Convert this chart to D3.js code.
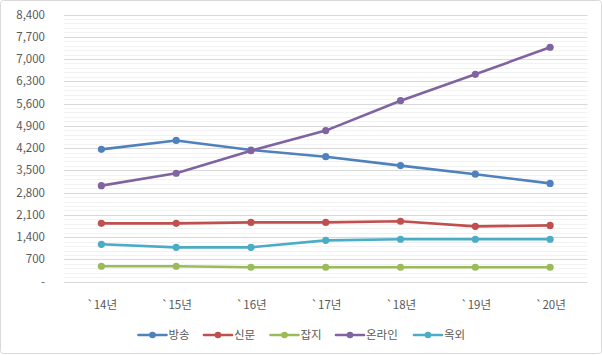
<!DOCTYPE html>
<html><head><meta charset="utf-8">
<script src="https://cdn.jsdelivr.net/npm/d3@7"></script>
<style>body{margin:0;background:#fff}svg{display:block}text{font-family:"Noto Sans CJK KR","Noto Sans",sans-serif}</style>
</head><body>
<svg id="c" width="602" height="355"></svg>
<script>
const categories = ["`14년","`15년","`16년","`17년","`18년","`19년","`20년"];
const broadcast = [4160, 4440, 4140, 3930, 3650, 3380, 3090];
const newspaper = [1835, 1835, 1865, 1865, 1900, 1740, 1770];
const magazine  = [485, 485, 455, 455, 455, 455, 455];
const online    = [3020, 3410, 4120, 4750, 5690, 6520, 7370];
const outdoor   = [1175, 1080, 1080, 1300, 1335, 1335, 1335];
const seriesNames = ["방송","신문","잡지","온라인","옥외"];
const seriesColors = ["#4F81BD","#C0504D","#9BBB59","#8064A2","#4BACC6"];
const yTicks = [0,700,1400,2100,2800,3500,4200,4900,5600,6300,7000,7700,8400];

const series = [broadcast, newspaper, magazine, online, outdoor].map((v,i)=>({name:seriesNames[i], color:seriesColors[i], values:v}));

const svg = d3.select("#c");
const L=64, R=587.5, T=14.5, B=281.7;
const x = d3.scalePoint().domain(categories).range([L,R]).padding(0.5);
const y = d3.scaleLinear().domain([0,8400]).range([B,T]);

svg.append("rect").attr("x",0.5).attr("y",0.5).attr("width",601).attr("height",353).attr("rx",3)
  .attr("fill","#fff").attr("stroke","#D9D9D9");

// minor gridlines
const minor = d3.range(0,8400,140).filter(v=>v%700!==0);
svg.append("g").selectAll("line").data(minor).join("line")
  .attr("x1",L).attr("x2",R).attr("y1",d=>Math.round(y(d))+0.5).attr("y2",d=>Math.round(y(d))+0.5)
  .attr("stroke","#F2F2F2").attr("stroke-width",1);
// major gridlines via axis
const yAxis = d3.axisLeft(y).tickValues(yTicks).tickSize(-(R-L)).tickPadding(19)
  .tickFormat(d=> d===0 ? "-" : d3.format(",")(d));
const gy = svg.append("g").attr("transform",`translate(${L},0)`).call(yAxis);
gy.select(".domain").remove();
gy.selectAll(".tick line").attr("stroke","#D9D9D9");
gy.selectAll(".tick").attr("transform",d=>`translate(0,${Math.round(y(d))+0.5})`);
gy.selectAll(".tick text").attr("fill","#595959").style("font-size","11.5px");

const xAxis = d3.axisBottom(x).tickSize(0).tickPadding(0);
const gx = svg.append("g").attr("transform",`translate(0,${B})`).call(xAxis);
gx.select(".domain").remove();
gx.selectAll(".tick text").attr("fill","#595959").style("font-size","11.5px").attr("dy","0").attr("y",27);

const line = d3.line().x((d,i)=>x(categories[i])).y(d=>y(d));
const gs = svg.append("g").selectAll("g").data(series).join("g");
gs.append("path").attr("d",d=>line(d.values)).attr("fill","none").attr("stroke",d=>d.color)
  .attr("stroke-width",2.6).attr("stroke-linejoin","round").attr("stroke-linecap","round");
gs.each(function(s){
  d3.select(this).selectAll("circle").data(s.values).join("circle")
    .attr("cx",(d,i)=>x(categories[i])).attr("cy",d=>y(d)).attr("r",3.6).attr("fill",s.color);
});

// legend
const legX = [138.5, 204, 270.5, 336, 414];
const lg = svg.append("g").selectAll("g").data(series).join("g")
  .attr("transform",(d,i)=>`translate(${legX[i]},335)`);
lg.append("line").attr("x1",0).attr("x2",28).attr("stroke",d=>d.color).attr("stroke-width",2.6).attr("stroke-linecap","round");
lg.append("circle").attr("cx",14).attr("r",3.3).attr("fill",d=>d.color);
lg.append("text").attr("x",30).attr("y",4).attr("fill","#595959").style("font-size","11.5px").text(d=>d.name);
</script>
</body></html>
